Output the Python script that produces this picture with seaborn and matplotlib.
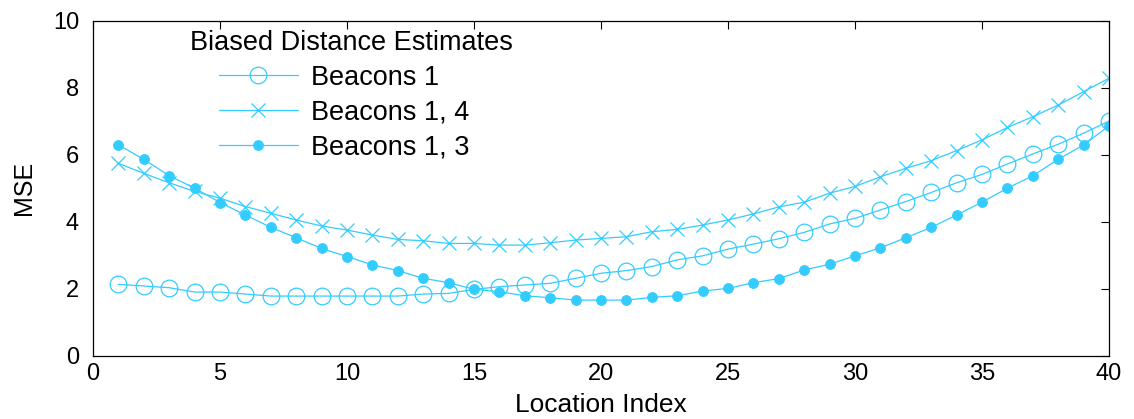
import matplotlib
matplotlib.use("Agg")
import matplotlib.pyplot as plt
import numpy as np
import seaborn as sns

location = list(range(1, 41))

beacons_1 = [
    2.13, 2.08, 2.03, 1.90, 1.90, 1.84, 1.78, 1.78, 1.78, 1.78,
    1.78, 1.78, 1.84, 1.86, 1.98, 2.06, 2.11, 2.16, 2.31, 2.46,
    2.54, 2.66, 2.86, 2.98, 3.18, 3.33, 3.49, 3.68, 3.93, 4.10,
    4.35, 4.60, 4.87, 5.16, 5.41, 5.72, 6.02, 6.31, 6.64, 7.00,
]

beacons_1_4 = [
    5.74, 5.44, 5.16, 4.90, 4.70, 4.45, 4.25, 4.05, 3.87, 3.75,
    3.60, 3.47, 3.43, 3.35, 3.35, 3.30, 3.30, 3.37, 3.45, 3.50,
    3.55, 3.70, 3.77, 3.90, 4.05, 4.23, 4.44, 4.58, 4.85, 5.05,
    5.34, 5.59, 5.82, 6.12, 6.44, 6.81, 7.13, 7.48, 7.88, 8.28,
]

beacons_1_3 = [
    6.29, 5.86, 5.37, 5.00, 4.57, 4.20, 3.83, 3.52, 3.20, 2.96,
    2.71, 2.54, 2.31, 2.18, 1.98, 1.91, 1.79, 1.73, 1.66, 1.66,
    1.66, 1.74, 1.79, 1.93, 2.01, 2.18, 2.30, 2.56, 2.73, 2.98,
    3.22, 3.52, 3.83, 4.20, 4.58, 5.00, 5.37, 5.86, 6.29, 6.86,
]

series_labels = ["Beacons 1", "Beacons 1, 4", "Beacons 1, 3"]
legend_title = "Biased Distance Estimates"

sns.set_style("white")
plt.rcParams["font.family"] = ["Liberation Sans", "DejaVu Sans"]
plt.rcParams["text.color"] = "black"
plt.rcParams["axes.labelcolor"] = "black"

color = "#33ccff"

fig, ax = plt.subplots(figsize=(11.34, 4.19), dpi=100)
fig.subplots_adjust(left=0.082, right=0.978, top=0.951, bottom=0.151)

sns.lineplot(
    x=location, y=beacons_1, ax=ax, color=color, linewidth=0.9,
    marker="o", markersize=12, markerfacecolor="none",
    markeredgecolor=color, markeredgewidth=0.9, label=series_labels[0],
)
sns.lineplot(
    x=location, y=beacons_1_4, ax=ax, color=color, linewidth=0.9,
    marker="x", markersize=10.5, markeredgecolor=color,
    markeredgewidth=0.9, label=series_labels[1],
)
sns.lineplot(
    x=location, y=beacons_1_3, ax=ax, color=color, linewidth=0.9,
    marker="o", markersize=7, markerfacecolor=color,
    markeredgecolor=color, label=series_labels[2],
)

ax.set_xlim(0, 40)
ax.set_ylim(0, 10)
ax.set_xticks(np.arange(0, 41, 5))
ax.set_yticks(np.arange(0, 11, 2))
ax.tick_params(
    direction="in", top=True, right=True, length=6,
    width=0.8, labelsize=17, colors="black",
)
ax.tick_params(axis="y", pad=10)
ax.tick_params(axis="x", pad=5)

for spine in ax.spines.values():
    spine.set_visible(True)
    spine.set_color("black")
    spine.set_linewidth(0.9)

ax.set_xlabel("Location Index", fontsize=19, labelpad=6)
ax.set_ylabel("MSE", fontsize=18, labelpad=12)

# legend title sits further left than the entries
ax.text(
    0.0955, 0.932, legend_title, transform=ax.transAxes,
    fontsize=19.5, ha="left", va="center",
)

ax.legend(
    loc="upper left",
    bbox_to_anchor=(0.124, 0.868),
    frameon=False,
    fontsize=19.5,
    handlelength=2.9,
    handletextpad=0.5,
    labelspacing=0.33,
    borderpad=0,
    borderaxespad=0,
)

fig.savefig("out.png", dpi=100)
